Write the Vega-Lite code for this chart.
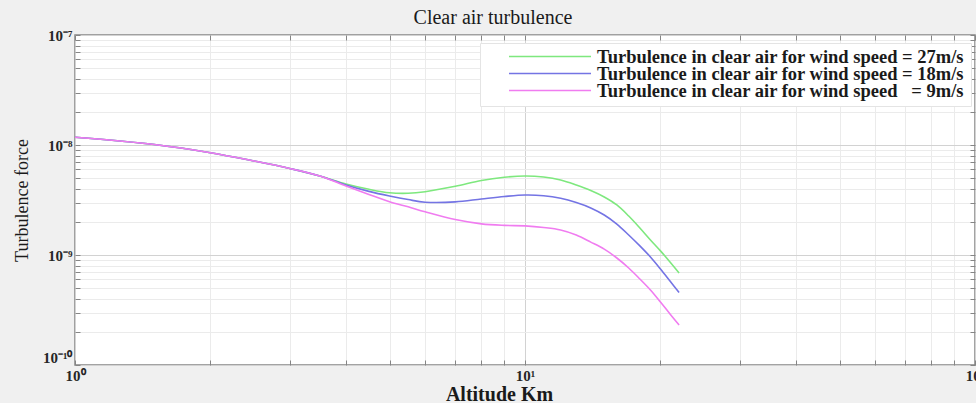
{
  "$schema": "https://vega.github.io/schema/vega-lite/v6.json",
  "width": 900,
  "height": 330,
  "autosize": {"type": "none"},
  "padding": {"left": 75, "top": 35, "right": 1, "bottom": 38},
  "background": "#f0f0f0",
  "config": {
    "view": {"fill": "white", "stroke": "#858585", "strokeWidth": 1.5},
    "font": "Liberation Serif"
  },
  "title": {
    "text": "Clear air turbulence",
    "font": "Liberation Serif",
    "fontSize": 20,
    "fontWeight": "normal",
    "color": "#1a1a1a",
    "anchor": "middle",
    "frame": "group",
    "dx": -32,
    "dy": 8,
    "offset": 8
  },
  "data": {
    "values": [
      {"alt": 1, "force": 1.175e-8, "series": "Turbulence in clear air for wind speed = 27m/s"},
      {"alt": 1.5, "force": 1.01e-8, "series": "Turbulence in clear air for wind speed = 27m/s"},
      {"alt": 2, "force": 8.51e-9, "series": "Turbulence in clear air for wind speed = 27m/s"},
      {"alt": 2.5, "force": 7.15e-9, "series": "Turbulence in clear air for wind speed = 27m/s"},
      {"alt": 3, "force": 6.12e-9, "series": "Turbulence in clear air for wind speed = 27m/s"},
      {"alt": 3.5, "force": 5.23e-9, "series": "Turbulence in clear air for wind speed = 27m/s"},
      {"alt": 4, "force": 4.42e-9, "series": "Turbulence in clear air for wind speed = 27m/s"},
      {"alt": 4.5, "force": 3.96e-9, "series": "Turbulence in clear air for wind speed = 27m/s"},
      {"alt": 5, "force": 3.68e-9, "series": "Turbulence in clear air for wind speed = 27m/s"},
      {"alt": 5.5, "force": 3.64e-9, "series": "Turbulence in clear air for wind speed = 27m/s"},
      {"alt": 6, "force": 3.76e-9, "series": "Turbulence in clear air for wind speed = 27m/s"},
      {"alt": 7, "force": 4.21e-9, "series": "Turbulence in clear air for wind speed = 27m/s"},
      {"alt": 8, "force": 4.76e-9, "series": "Turbulence in clear air for wind speed = 27m/s"},
      {"alt": 9, "force": 5.09e-9, "series": "Turbulence in clear air for wind speed = 27m/s"},
      {"alt": 10, "force": 5.23e-9, "series": "Turbulence in clear air for wind speed = 27m/s"},
      {"alt": 11, "force": 5.12e-9, "series": "Turbulence in clear air for wind speed = 27m/s"},
      {"alt": 12, "force": 4.81e-9, "series": "Turbulence in clear air for wind speed = 27m/s"},
      {"alt": 13, "force": 4.33e-9, "series": "Turbulence in clear air for wind speed = 27m/s"},
      {"alt": 14, "force": 3.86e-9, "series": "Turbulence in clear air for wind speed = 27m/s"},
      {"alt": 15, "force": 3.37e-9, "series": "Turbulence in clear air for wind speed = 27m/s"},
      {"alt": 16, "force": 2.85e-9, "series": "Turbulence in clear air for wind speed = 27m/s"},
      {"alt": 17, "force": 2.26e-9, "series": "Turbulence in clear air for wind speed = 27m/s"},
      {"alt": 18, "force": 1.76e-9, "series": "Turbulence in clear air for wind speed = 27m/s"},
      {"alt": 19, "force": 1.37e-9, "series": "Turbulence in clear air for wind speed = 27m/s"},
      {"alt": 20, "force": 1.09e-9, "series": "Turbulence in clear air for wind speed = 27m/s"},
      {"alt": 21, "force": 8.64e-10, "series": "Turbulence in clear air for wind speed = 27m/s"},
      {"alt": 22, "force": 6.86e-10, "series": "Turbulence in clear air for wind speed = 27m/s"},

      {"alt": 1, "force": 1.175e-8, "series": "Turbulence in clear air for wind speed = 18m/s"},
      {"alt": 1.5, "force": 1.01e-8, "series": "Turbulence in clear air for wind speed = 18m/s"},
      {"alt": 2, "force": 8.51e-9, "series": "Turbulence in clear air for wind speed = 18m/s"},
      {"alt": 2.5, "force": 7.15e-9, "series": "Turbulence in clear air for wind speed = 18m/s"},
      {"alt": 3, "force": 6.12e-9, "series": "Turbulence in clear air for wind speed = 18m/s"},
      {"alt": 3.5, "force": 5.23e-9, "series": "Turbulence in clear air for wind speed = 18m/s"},
      {"alt": 4, "force": 4.33e-9, "series": "Turbulence in clear air for wind speed = 18m/s"},
      {"alt": 4.5, "force": 3.79e-9, "series": "Turbulence in clear air for wind speed = 18m/s"},
      {"alt": 5, "force": 3.44e-9, "series": "Turbulence in clear air for wind speed = 18m/s"},
      {"alt": 5.5, "force": 3.19e-9, "series": "Turbulence in clear air for wind speed = 18m/s"},
      {"alt": 6, "force": 3.02e-9, "series": "Turbulence in clear air for wind speed = 18m/s"},
      {"alt": 7, "force": 3.04e-9, "series": "Turbulence in clear air for wind speed = 18m/s"},
      {"alt": 8, "force": 3.23e-9, "series": "Turbulence in clear air for wind speed = 18m/s"},
      {"alt": 9, "force": 3.40e-9, "series": "Turbulence in clear air for wind speed = 18m/s"},
      {"alt": 10, "force": 3.51e-9, "series": "Turbulence in clear air for wind speed = 18m/s"},
      {"alt": 11, "force": 3.46e-9, "series": "Turbulence in clear air for wind speed = 18m/s"},
      {"alt": 12, "force": 3.28e-9, "series": "Turbulence in clear air for wind speed = 18m/s"},
      {"alt": 13, "force": 3.00e-9, "series": "Turbulence in clear air for wind speed = 18m/s"},
      {"alt": 14, "force": 2.68e-9, "series": "Turbulence in clear air for wind speed = 18m/s"},
      {"alt": 15, "force": 2.31e-9, "series": "Turbulence in clear air for wind speed = 18m/s"},
      {"alt": 16, "force": 1.91e-9, "series": "Turbulence in clear air for wind speed = 18m/s"},
      {"alt": 17, "force": 1.52e-9, "series": "Turbulence in clear air for wind speed = 18m/s"},
      {"alt": 18, "force": 1.21e-9, "series": "Turbulence in clear air for wind speed = 18m/s"},
      {"alt": 19, "force": 9.59e-10, "series": "Turbulence in clear air for wind speed = 18m/s"},
      {"alt": 20, "force": 7.46e-10, "series": "Turbulence in clear air for wind speed = 18m/s"},
      {"alt": 21, "force": 5.80e-10, "series": "Turbulence in clear air for wind speed = 18m/s"},
      {"alt": 22, "force": 4.56e-10, "series": "Turbulence in clear air for wind speed = 18m/s"},

      {"alt": 1, "force": 1.175e-8, "series": "Turbulence in clear air for wind speed \u2007= 9m/s"},
      {"alt": 1.5, "force": 1.01e-8, "series": "Turbulence in clear air for wind speed \u2007= 9m/s"},
      {"alt": 2, "force": 8.51e-9, "series": "Turbulence in clear air for wind speed \u2007= 9m/s"},
      {"alt": 2.5, "force": 7.15e-9, "series": "Turbulence in clear air for wind speed \u2007= 9m/s"},
      {"alt": 3, "force": 6.12e-9, "series": "Turbulence in clear air for wind speed \u2007= 9m/s"},
      {"alt": 3.5, "force": 5.23e-9, "series": "Turbulence in clear air for wind speed \u2007= 9m/s"},
      {"alt": 4, "force": 4.24e-9, "series": "Turbulence in clear air for wind speed \u2007= 9m/s"},
      {"alt": 4.5, "force": 3.55e-9, "series": "Turbulence in clear air for wind speed \u2007= 9m/s"},
      {"alt": 5, "force": 3.05e-9, "series": "Turbulence in clear air for wind speed \u2007= 9m/s"},
      {"alt": 5.5, "force": 2.74e-9, "series": "Turbulence in clear air for wind speed \u2007= 9m/s"},
      {"alt": 6, "force": 2.47e-9, "series": "Turbulence in clear air for wind speed \u2007= 9m/s"},
      {"alt": 7, "force": 2.10e-9, "series": "Turbulence in clear air for wind speed \u2007= 9m/s"},
      {"alt": 8, "force": 1.92e-9, "series": "Turbulence in clear air for wind speed \u2007= 9m/s"},
      {"alt": 9, "force": 1.86e-9, "series": "Turbulence in clear air for wind speed \u2007= 9m/s"},
      {"alt": 10, "force": 1.84e-9, "series": "Turbulence in clear air for wind speed \u2007= 9m/s"},
      {"alt": 11, "force": 1.78e-9, "series": "Turbulence in clear air for wind speed \u2007= 9m/s"},
      {"alt": 12, "force": 1.69e-9, "series": "Turbulence in clear air for wind speed \u2007= 9m/s"},
      {"alt": 13, "force": 1.52e-9, "series": "Turbulence in clear air for wind speed \u2007= 9m/s"},
      {"alt": 14, "force": 1.31e-9, "series": "Turbulence in clear air for wind speed \u2007= 9m/s"},
      {"alt": 15, "force": 1.13e-9, "series": "Turbulence in clear air for wind speed \u2007= 9m/s"},
      {"alt": 16, "force": 9.39e-10, "series": "Turbulence in clear air for wind speed \u2007= 9m/s"},
      {"alt": 17, "force": 7.62e-10, "series": "Turbulence in clear air for wind speed \u2007= 9m/s"},
      {"alt": 18, "force": 6.05e-10, "series": "Turbulence in clear air for wind speed \u2007= 9m/s"},
      {"alt": 19, "force": 4.81e-10, "series": "Turbulence in clear air for wind speed \u2007= 9m/s"},
      {"alt": 20, "force": 3.74e-10, "series": "Turbulence in clear air for wind speed \u2007= 9m/s"},
      {"alt": 21, "force": 2.91e-10, "series": "Turbulence in clear air for wind speed \u2007= 9m/s"},
      {"alt": 22, "force": 2.31e-10, "series": "Turbulence in clear air for wind speed \u2007= 9m/s"}
    ]
  },
  "layer": [
    {
      "mark": {"type": "line", "interpolate": "catmull-rom", "strokeWidth": 1.6},
      "encoding": {
        "x": {
          "field": "alt",
          "type": "quantitative",
          "scale": {"type": "log", "domain": [1, 100], "nice": false},
          "axis": {
            "orient": "bottom",
            "values": [1, 2, 3, 4, 5, 6, 7, 8, 9, 10, 20, 30, 40, 50, 60, 70, 80, 90, 100],
            "labelExpr": "datum.value == 1 ? '10⁰' : datum.value == 10 ? '10¹' : datum.value == 100 ? '10²' : ''",
            "labelFont": "Liberation Serif",
            "labelFontSize": 15,
            "labelFontWeight": "bold",
            "labelColor": "#262626",
            "labelFlush": false,
            "labelOverlap": false,
            "labelPadding": 8,
            "labelBaseline": "top",
            "tickSize": -5,
            "tickColor": "#858585",
            "tickWidth": 1,
            "domain": false,
            "grid": true,
            "gridColor": {"condition": {"test": "datum.value == 1 || datum.value == 10 || datum.value == 100", "value": "#d2d2d2"}, "value": "#ebebeb"},
            "gridWidth": 1,
            "title": "Altitude Km",
            "titleFont": "Liberation Serif",
            "titleFontSize": 20,
            "titleFontWeight": "bold",
            "titleColor": "#1a1a1a",
            "titleX": 424,
            "titleY": 35,
            "titleAlign": "center",
            "titleBaseline": "alphabetic"
          }
        },
        "y": {
          "field": "force",
          "type": "quantitative",
          "scale": {"type": "log", "domain": [1e-10, 1e-7], "nice": false},
          "axis": {
            "orient": "left",
            "values": [1e-10, 2e-10, 3e-10, 4e-10, 5e-10, 6e-10, 7e-10, 8e-10, 9e-10, 1e-9, 2e-9, 3e-9, 4e-9, 5e-9, 6e-9, 7e-9, 8e-9, 9e-9, 1e-8, 2e-8, 3e-8, 4e-8, 5e-8, 6e-8, 7e-8, 8e-8, 9e-8, 1e-7],
            "labelExpr": "datum.value == 1e-7 ? '10⁻⁷' : datum.value == 1e-8 ? '10⁻⁸' : datum.value == 1e-9 ? '10⁻⁹' : datum.value == 1e-10 ? '10⁻¹⁰' : ''",
            "labelFont": "Liberation Serif",
            "labelFontSize": 15,
            "labelFontWeight": "bold",
            "labelColor": "#262626",
            "labelFlush": false,
            "labelOverlap": false,
            "labelPadding": 8,
            "labelBaseline": {"condition": {"test": "datum.value == 1e-10", "value": "bottom"}, "value": "middle"},
            "tickSize": -5,
            "tickColor": "#858585",
            "tickWidth": 1,
            "domain": false,
            "grid": true,
            "gridColor": {"condition": {"test": "datum.value == 1e-7 || datum.value == 1e-8 || datum.value == 1e-9 || datum.value == 1e-10", "value": "#d2d2d2"}, "value": "#ebebeb"},
            "gridWidth": 1,
            "title": "Turbulence force",
            "titleFont": "Liberation Serif",
            "titleFontSize": 18,
            "titleFontWeight": "normal",
            "titleColor": "#1a1a1a",
            "titleAngle": 270,
            "titleX": -48,
            "titleY": 165,
            "titleAlign": "center",
            "titleBaseline": "alphabetic"
          }
        },
        "color": {
          "field": "series",
          "type": "nominal",
          "sort": null,
          "scale": {
            "domain": [
              "Turbulence in clear air for wind speed = 27m/s",
              "Turbulence in clear air for wind speed = 18m/s",
              "Turbulence in clear air for wind speed \u2007= 9m/s"
            ],
            "range": ["#7ee87e", "#7474e4", "#f07cf0"]
          },
          "legend": {
            "title": null,
            "orient": "none",
            "legendX": 405,
            "legendY": 8,
            "direction": "vertical",
            "symbolType": "stroke",
            "symbolSize": 6724,
            "symbolStrokeWidth": 1.5,
            "symbolOffset": 22,
            "clipHeight": 15,
            "rowPadding": -5,
            "labelFont": "Liberation Serif",
            "labelFontSize": 18.5,
            "labelFontWeight": "bold",
            "labelColor": "#1a1a1a",
            "labelOffset": 5,
            "labelLimit": 0,
            "padding": 6,
            "fillColor": "white",
            "strokeColor": "#e4e4e4",
            "cornerRadius": 0
          }
        }
      }
    },
    {
      "mark": {"type": "point", "opacity": 0},
      "encoding": {
        "x": {
          "field": "alt",
          "type": "quantitative",
          "axis": {
            "orient": "top",
            "values": [1, 2, 3, 4, 5, 6, 7, 8, 9, 10, 20, 30, 40, 50, 60, 70, 80, 90, 100],
            "labels": false,
            "grid": false,
            "domain": false,
            "tickSize": -5,
            "tickColor": "#858585",
            "tickWidth": 1,
            "title": null
          }
        },
        "y": {
          "field": "force",
          "type": "quantitative",
          "axis": {
            "orient": "right",
            "values": [1e-10, 2e-10, 3e-10, 4e-10, 5e-10, 6e-10, 7e-10, 8e-10, 9e-10, 1e-9, 2e-9, 3e-9, 4e-9, 5e-9, 6e-9, 7e-9, 8e-9, 9e-9, 1e-8, 2e-8, 3e-8, 4e-8, 5e-8, 6e-8, 7e-8, 8e-8, 9e-8, 1e-7],
            "labels": false,
            "grid": false,
            "domain": false,
            "tickSize": -5,
            "tickColor": "#858585",
            "tickWidth": 1,
            "title": null
          }
        }
      }
    }
  ],
  "resolve": {"axis": {"x": "independent", "y": "independent"}}
}
